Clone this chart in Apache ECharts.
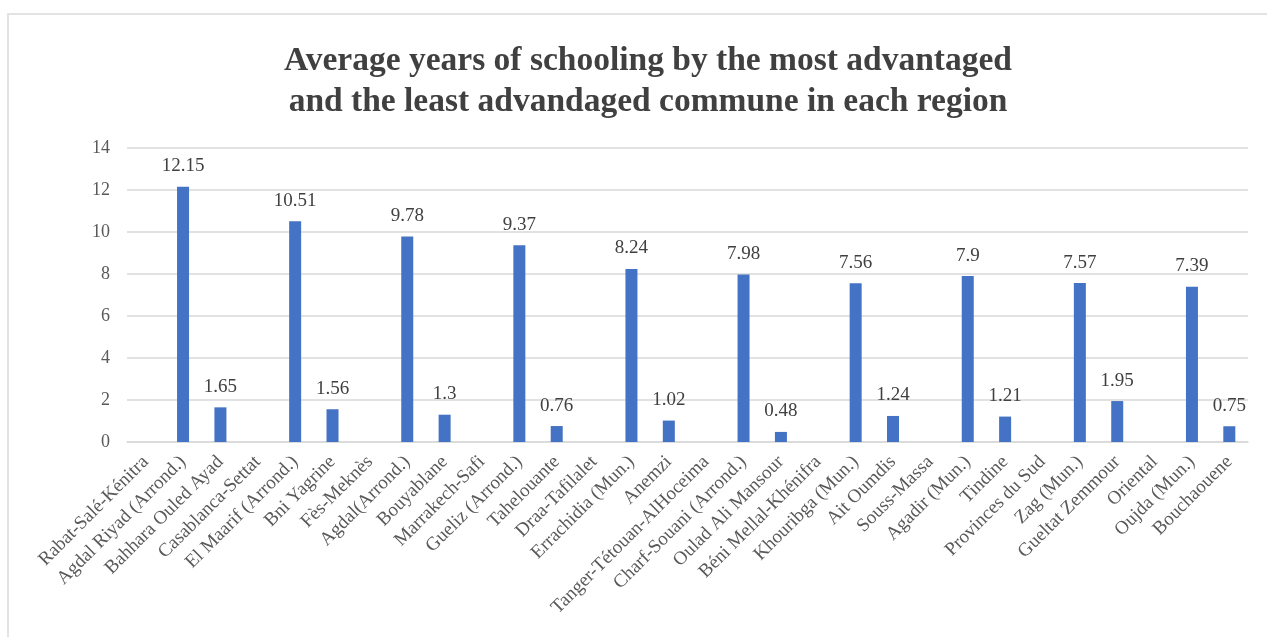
<!DOCTYPE html>
<html>
<head>
<meta charset="utf-8">
<script src="https://cdn.jsdelivr.net/npm/echarts@6/dist/echarts.min.js"></script>
<style>
  html, body { margin: 0; padding: 0; background: #ffffff; }
  #chart { width: 1267px; height: 637px; }
</style>
</head>
<body>
<div id="chart"></div>
<script>
// Regions are followed by their most and least advantaged commune;
// region rows carry no value and only act as group headers on the axis.
const categories = [
  'Rabat-Salé-Kénitra', 'Agdal Riyad (Arrond.)', 'Bahhara Ouled Ayad',
  'Casablanca-Settat', "El Maarif (Arrond.)", 'Bni Yagrine',
  'Fès-Meknès', 'Agdal(Arrond.)', 'Bouyablane',
  'Marrakech-Safi', 'Gueliz (Arrond.)', 'Tahelouante',
  'Draa-Tafilalet', 'Errachidia (Mun.)', 'Anemzi',
  'Tanger-Tétouan-AlHoceima', 'Charf-Souani (Arrond.)', 'Oulad Ali Mansour',
  'Béni Mellal-Khénifra', 'Khouribga (Mun.)', 'Ait Oumdis',
  'Souss-Massa', 'Agadir (Mun.)', 'Tindine',
  'Provinces du Sud', 'Zag (Mun.)', 'Gueltat Zemmour',
  'Oriental', 'Oujda (Mun.)', 'Bouchaouene'
];
const schoolingYears = [
  null, 12.15, 1.65,
  null, 10.51, 1.56,
  null, 9.78, 1.3,
  null, 9.37, 0.76,
  null, 8.24, 1.02,
  null, 7.98, 0.48,
  null, 7.56, 1.24,
  null, 7.9, 1.21,
  null, 7.57, 1.95,
  null, 7.39, 0.75
];
const titleLines = [
  'Average years of schooling by the most advantaged',
  'and the least advandaged commune in each region'
];
const yTicks = { min: 0, max: 14, interval: 2 };

const serif = "'Liberation Serif', 'Times New Roman', serif";
const chart = echarts.init(document.getElementById('chart'), null, { renderer: 'canvas' });

chart.setOption({
  backgroundColor: '#ffffff',
  animation: false,
  title: {
    text: titleLines.join('\n'),
    left: 643,
    top: 36,
    textAlign: 'center',
    textStyle: {
      fontFamily: serif,
      fontWeight: 'bold',
      fontSize: 33.5,
      lineHeight: 41,
      color: '#404040'
    }
  },
  graphic: [{
    type: 'rect',
    silent: true,
    shape: { x: 8, y: 14, width: 1300, height: 700 },
    style: { fill: 'none', stroke: '#e3e3e3', lineWidth: 2 }
  }],
  grid: { left: 127, right: 19, top: 148, bottom: 195, containLabel: false },
  xAxis: {
    type: 'category',
    data: categories,
    axisTick: { show: false },
    axisLine: { lineStyle: { color: '#d9d9d9', width: 1.5 } },
    axisLabel: {
      interval: 0,
      rotate: 45,
      margin: 17,
      fontFamily: serif,
      fontSize: 19,
      color: '#595959'
    }
  },
  yAxis: {
    type: 'value',
    min: yTicks.min,
    max: yTicks.max,
    interval: yTicks.interval,
    axisLine: { show: false },
    axisTick: { show: false },
    splitLine: { lineStyle: { color: '#d9d9d9', width: 1.5 } },
    axisLabel: {
      margin: 17,
      fontFamily: serif,
      fontSize: 18,
      color: '#595959'
    }
  },
  series: [{
    type: 'bar',
    data: schoolingYears,
    barWidth: 12,
    itemStyle: { color: '#4472C4' },
    label: {
      show: true,
      position: 'top',
      distance: 11,
      fontFamily: serif,
      fontSize: 19,
      color: '#404040'
    }
  }]
});
</script>
</body>
</html>
